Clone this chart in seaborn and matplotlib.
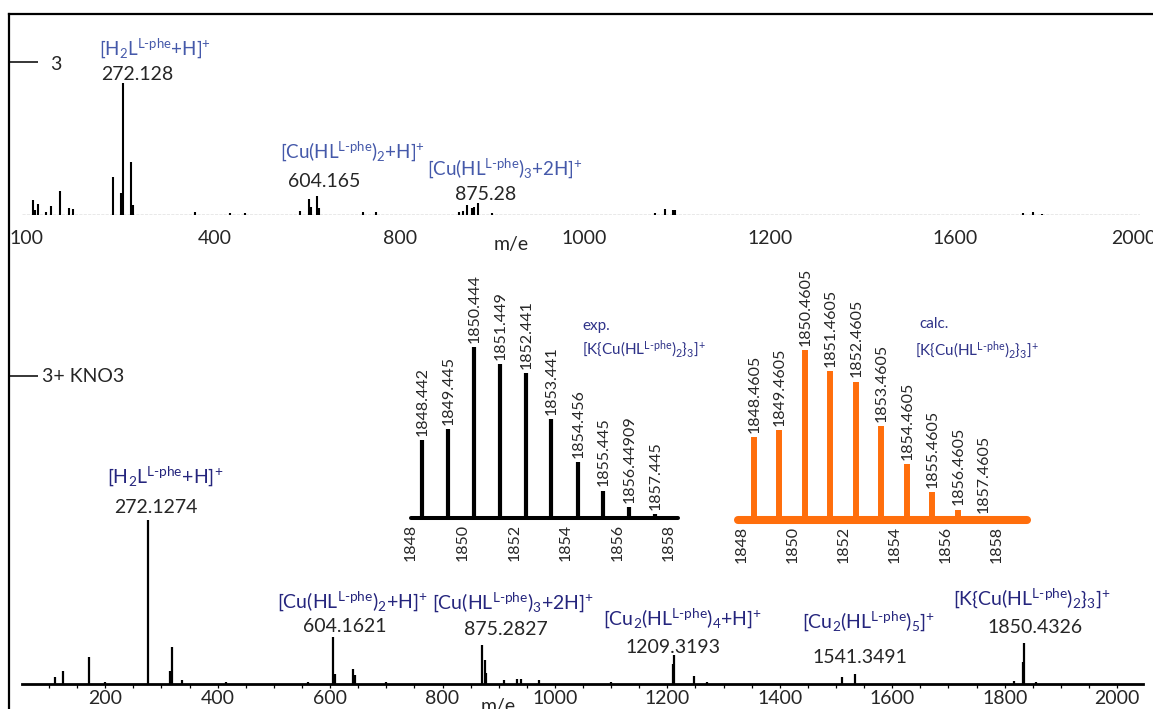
import numpy as np
import pandas as pd
import matplotlib
matplotlib.use("Agg")
import matplotlib.pyplot as plt
import seaborn as sns

# ---------------- data ----------------
# spectrum of 3 (top)
top_mz = [118, 122, 128, 141, 149, 165, 180, 187, 254, 269, 272, 286, 288,
          394, 453, 479, 572, 588, 591, 602, 605, 680, 701,
          843, 849, 857, 864, 869, 875, 898, 1175, 1192, 1207, 1209,
          1802, 1819, 1834]
top_int = [11.4, 3.8, 8.1, 2.3, 6.8, 18.2, 5.1, 4.3, 28.6, 16.5, 100, 40, 7.6,
           2.0, 1.5, 1.5, 3.3, 12.1, 6.1, 14.7, 5.1, 2.3, 2.3,
           2.5, 3.3, 7.6, 5.1, 6.3, 9.3, 1.5, 1.7, 4.6, 3.8, 3.8,
           1.7, 2.5, 0.8]
top_tick_pos = [108, 428, 742, 1056, 1371, 1685, 1990]
top_tick_labels = ["100", "400", "800", "1000", "1200", "1600", "2000"]

# spectrum of 3 + KNO3 (bottom)
bot_mz = [110, 125, 171, 200, 277, 315, 319, 336, 415, 560, 605, 608, 641, 644,
          700, 871, 875, 878, 910, 932, 939, 972, 1100, 1210, 1212, 1248, 1271,
          1511, 1534, 1816, 1833, 1835, 1856]
bot_int = [4.3, 7.8, 16.3, 1.2, 100, 7.8, 22.4, 2.4, 1.2, 1.2, 28.7, 6.1, 9.4, 5.5,
           1.2, 23.6, 14.7, 6.7, 2.4, 3.1, 3.1, 2.4, 1.0, 12.2, 17.7, 5.1, 1.2,
           4.1, 5.9, 1.8, 13.3, 24.9, 1.2]
bot_major_ticks = [200, 400, 600, 800, 1000, 1200, 1400, 1600, 1800, 2000]

# isotope pattern, experimental
exp_mz = [1848.442, 1849.445, 1850.444, 1851.449, 1852.441, 1853.441,
          1854.456, 1855.445, 1856.44909, 1857.445]
exp_int = [45.8, 52.0, 100, 89.9, 84.8, 57.9, 32.6, 16.0, 6.4, 2.3]
exp_labels = ["1848.442", "1849.445", "1850.444", "1851.449", "1852.441",
              "1853.441", "1854.456", "1855.445", "1856.44909", "1857.445"]
exp_minor_mz = [1855.95]
exp_minor_int = [1.0]

# isotope pattern, calculated
calc_mz = [1848.4605, 1849.4605, 1850.4605, 1851.4605, 1852.4605, 1853.4605,
           1854.4605, 1855.4605, 1856.4605, 1857.4605]
calc_int = [48.6, 52.9, 100, 87.8, 81.4, 55.1, 32.9, 16.3, 6.1, 1.4]
calc_labels = ["1848.4605", "1849.4605", "1850.4605", "1851.4605", "1852.4605",
               "1853.4605", "1854.4605", "1855.4605", "1856.4605", "1857.4605"]
iso_ticks = [1848, 1850, 1852, 1854, 1856, 1858]

# ---------------- style ----------------
sns.set_theme(style="white")
plt.rcParams["font.family"] = ["Lato", "DejaVu Sans"]
plt.rcParams["mathtext.fontset"] = "custom"
plt.rcParams["mathtext.rm"] = "Lato"
plt.rcParams["mathtext.it"] = "Lato:italic"
plt.rcParams["mathtext.bf"] = "Lato:bold"
plt.rcParams["mathtext.default"] = "rm"

TOPC = "#4559aa"
BOTC = "#25257d"
INSC = "#2e3288"
ORANGE = "#ff6e0c"

W, H = 1153, 709
fig = plt.figure(figsize=(W / 100, H / 100), dpi=100)


def add_ax(x0, x1, ybot, ytop, **kw):
    return fig.add_axes([x0 / W, 1 - ybot / H, (x1 - x0) / W, (ybot - ytop) / H], **kw)


def ftext(x, y, s, **kw):
    kw.setdefault("ha", "center")
    kw.setdefault("va", "baseline")
    fig.text(x / W, 1 - y / H, s, **kw)


SUP = r"$^{\mathrm{L}\text{-}\mathrm{phe}}$"

# ---------------- frame ----------------
frame = add_ax(9, 1160, 720, 14)
frame.set_facecolor("none")
frame.set_xlim(0, 1)
frame.set_ylim(720, 14)
for s in ["right", "bottom"]:
    frame.spines[s].set_visible(False)
for s in ["left", "top"]:
    frame.spines[s].set_linewidth(1.6)
    frame.spines[s].set_color("black")
frame.set_xticks([])
frame.set_yticks([62, 376])
frame.set_yticklabels([])
frame.tick_params(axis="y", direction="in", length=21, width=1.1, color="black", left=True)
ftext(50, 70, "3", fontsize=14, ha="left")
ftext(42, 382, "3+ KNO3", fontsize=14, ha="left")

# ---------------- top spectrum ----------------
axt = add_ax(22, 1140, 215, 75)
axt.set_facecolor("none")
axt.axhline(0, color="#555555", lw=0.9, ls=(0, (2.5, 1)))
axt.vlines(top_mz, 0, top_int, color="black", lw=1.5)
axt.set_xlim(100, 2000)
axt.set_ylim(0, 106.3)
axt.set_yticks([])
axt.set_xticks(top_tick_pos)
axt.set_xticklabels(top_tick_labels, fontsize=14)
axt.tick_params(axis="x", length=0, pad=10.5)
sns.despine(ax=axt, left=True, bottom=True)
ftext(511, 250, "m/e", fontsize=14)

ftext(155, 55, "[H$_2$L" + SUP + "+H]$^{+}$", fontsize=13.5, color=TOPC)
ftext(137, 80, "272.128", fontsize=14)
ftext(353, 158, "[Cu(HL" + SUP + ")$_2$+H]$^{+}$", fontsize=13.5, color=TOPC)
ftext(324, 187, "604.165", fontsize=14)
ftext(505, 175, "[Cu(HL" + SUP + ")$_3$+2H]$^{+}$", fontsize=13.5, color=TOPC)
ftext(486, 200, "875.28", fontsize=14)

# ---------------- bottom spectrum ----------------
axb = add_ax(22, 1143, 684, 514)
axb.set_facecolor("none")
axb.vlines(bot_mz, 0, bot_int, color="black", lw=1.6)
axb.set_xlim(52, 2046)
axb.set_ylim(0, 103.9)
axb.set_yticks([])
axb.set_xticks(bot_major_ticks)
axb.set_xticklabels([str(t) for t in bot_major_ticks], fontsize=14)
axb.xaxis.set_minor_locator(matplotlib.ticker.MultipleLocator(50))
axb.tick_params(axis="x", which="both", direction="out", length=3, width=0.9,
                bottom=True, pad=1.5, color="black")
sns.despine(ax=axb, left=True)
axb.spines["bottom"].set_linewidth(2.0)
axb.spines["bottom"].set_color("black")
ftext(498, 712, "m/e", fontsize=14)

ftext(165, 483, "[H$_2$L" + SUP + "+H]$^{+}$", fontsize=14, color=BOTC)
ftext(156, 513, "272.1274", fontsize=14)
ftext(352, 608, "[Cu(HL" + SUP + ")$_2$+H]$^{+}$", fontsize=14, color=BOTC)
ftext(345, 632, "604.1621", fontsize=14)
ftext(513, 609, "[Cu(HL" + SUP + ")$_3$+2H]$^{+}$", fontsize=14, color=BOTC)
ftext(506, 635, "875.2827", fontsize=14)
ftext(683, 625, "[Cu$_2$(HL" + SUP + ")$_4$+H]$^{+}$", fontsize=14, color=BOTC)
ftext(673, 653, "1209.3193", fontsize=14)
ftext(869, 628, "[Cu$_2$(HL" + SUP + ")$_5$]$^{+}$", fontsize=14, color=BOTC)
ftext(860, 663, "1541.3491", fontsize=14)
ftext(1032, 605, "[K{Cu(HL" + SUP + ")$_2$}$_3$]$^{+}$", fontsize=14, color=BOTC)
ftext(1035, 633, "1850.4326", fontsize=14)

# ---------------- isotope insets ----------------
def iso_axes(ax, mz, inten, labels, color, lw_peak, lw_axis):
    ax.set_facecolor("none")
    ax.vlines(mz, 0, inten, color=color, lw=lw_peak)
    for m, h, lbl in zip(mz, inten, labels):
        ax.annotate(lbl, (m, h), xytext=(0.5, 3), textcoords="offset points",
                    rotation=90, ha="center", va="bottom", fontsize=11.5)
    ax.set_yticks([])
    ax.set_xticks(iso_ticks)
    ax.set_xticklabels([str(t) for t in iso_ticks], rotation=90, fontsize=11.5)
    ax.tick_params(axis="x", length=0, pad=4)
    sns.despine(ax=ax, left=True)
    ax.spines["bottom"].set_linewidth(lw_axis)
    ax.spines["bottom"].set_color(color)
    ax.spines["bottom"].set_capstyle("round")


axe = add_ax(411, 678, 518, 338)
iso_axes(axe, exp_mz, exp_int, exp_labels, "black", 3.0, 2.9)
axe.vlines(exp_minor_mz, 0, exp_minor_int, color="black", lw=2.0)
axe.set_xlim(1848.0, 1858.35)
axe.set_ylim(0, 105.3)
ftext(582, 330, "exp.", fontsize=11, color=INSC, ha="left")
ftext(582, 354, "[K{Cu(HL" + SUP + ")$_2$}$_3$]$^{+}$", fontsize=11, color=INSC, ha="left")

axc = add_ax(738, 1027, 520, 340)
iso_axes(axc, calc_mz, calc_int, calc_labels, ORANGE, 4.3, 5.8)
axc.set_xlim(1847.84, 1859.18)
axc.set_ylim(0, 105.9)
ftext(919, 328, "calc.", fontsize=11, color=INSC, ha="left")
ftext(915, 355, "[K{Cu(HL" + SUP + ")$_2$}$_3$]$^{+}$", fontsize=11, color=INSC, ha="left")

fig.savefig("out.png", dpi=100)
